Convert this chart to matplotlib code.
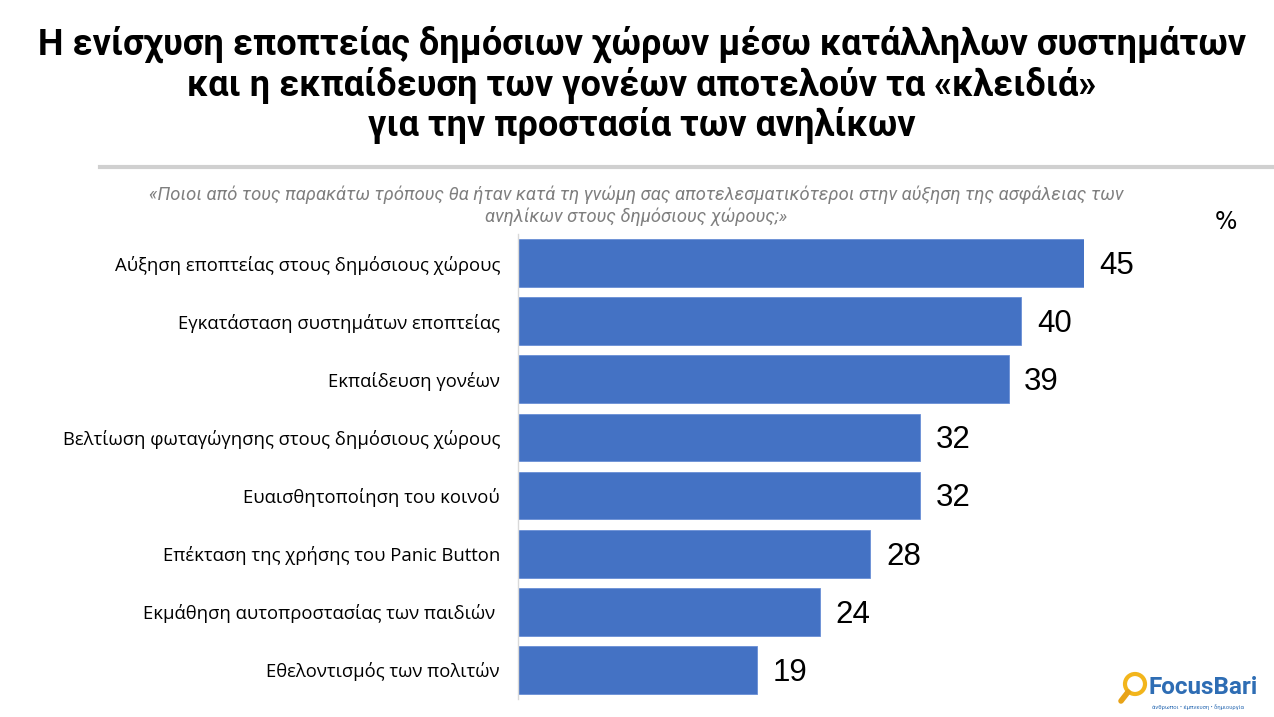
import matplotlib.pyplot as plt
from matplotlib.patches import Ellipse
from matplotlib.lines import Line2D

categories = [
    'Αύξηση εποπτείας στους δημόσιους χώρους',
    'Εγκατάσταση συστημάτων εποπτείας',
    'Εκπαίδευση γονέων',
    'Βελτίωση φωταγώγησης στους δημόσιους χώρους',
    'Ευαισθητοποίηση του κοινού',
    'Επέκταση της χρήσης του Panic Button',
    'Εκμάθηση αυτοπροστασίας των παιδιών ',
    'Εθελοντισμός των πολιτών',
]
values = [45, 40, 39, 32, 32, 28, 24, 19]

title = ('Η ενίσχυση εποπτείας δημόσιων χώρων μέσω κατάλληλων συστημάτων\n'
         'και η εκπαίδευση των γονέων αποτελούν τα «κλειδιά»\n'
         'για την προστασία των ανηλίκων')
question = ('«Ποιοι από τους παρακάτω τρόπους θα ήταν κατά τη γνώμη σας αποτελεσματικότεροι στην αύξηση της ασφάλειας των\n'
            'ανηλίκων στους δημόσιους χώρους;»')

W, H = 1274, 717
fig = plt.figure(figsize=(W / 100, H / 100), dpi=100)

# axes placed in pixel terms
ax_left, ax_right, ax_top, ax_bot = 518, 1084, 234, 699
ax = fig.add_axes([ax_left / W, 1 - ax_bot / H, (ax_right - ax_left) / W, (ax_bot - ax_top) / H])

y = range(len(values))
ax.barh(y, values, height=0.82, color='#4472C4', edgecolor='#6a8fd6', linewidth=0.6)
ax.set_xlim(0, 45)
ax.set_ylim(len(values) - 0.5, -0.5)

for i, v in enumerate(values):
    ax.text(v + 1.25, i + 0.05, str(v), va='center', ha='left', fontsize=22.5,
            family='Liberation Sans', color='black', clip_on=False)

ax.set_yticks(list(y))
ax.set_yticklabels(categories, fontsize=13.3, family='Open Sans', color='black')
ax.tick_params(axis='y', length=0, pad=13)
ax.set_xticks([])
for s in ['top', 'right', 'bottom']:
    ax.spines[s].set_visible(False)
ax.spines['left'].set_color('#d9d9d9')
ax.spines['left'].set_linewidth(1)

# title
fig.text(642 / W, 1 - 26 / H, title, ha='center', va='top', fontsize=26,
         fontweight='bold', family=['Roboto', 'DejaVu Sans'],
         linespacing=1.12, color='black')

# separator line
fig.add_artist(Line2D([100 / W, 1.0], [1 - 167 / H, 1 - 167 / H], color='#d0d0d0', lw=3,
                      transform=fig.transFigure))

# question
fig.text(636 / W, 1 - 185 / H, question, ha='center', va='top', fontsize=13.2,
         style='italic', family=['Roboto', 'DejaVu Sans'],
         color='#7f7f7f', linespacing=1.3)

fig.text(1226 / W, 1 - 222 / H, '%', ha='center', va='center', fontsize=17, color='black')

# logo
r = 10
fig.add_artist(Ellipse((1135 / W, 1 - 684 / H), 2 * r / W, 2 * r / H, transform=fig.transFigure,
                       fill=False, ec='#f2b51c', lw=3))
fig.add_artist(Line2D([1128 / W, 1121 / W], [1 - 692 / H, 1 - 701 / H], color='#e8a317', lw=4,
                      transform=fig.transFigure, solid_capstyle='round'))
fig.text(1148 / W, 1 - 688 / H, 'FocusBari', ha='left', va='center', fontsize=17.5,
         fontweight='bold', color='#2e6db4', family='Roboto')
fig.text(1152 / W, 1 - 707 / H, 'άνθρωποι • έμπνευση • δημιουργία', ha='left', va='center',
         fontsize=4.2, color='#2e6db4', family='Roboto')

fig.savefig('out.png', dpi=100)
